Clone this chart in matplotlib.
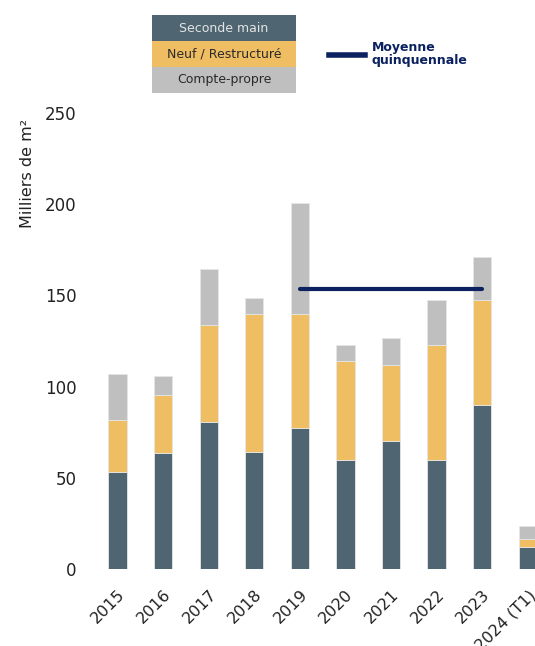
import matplotlib
matplotlib.use("Agg")
import matplotlib.pyplot as plt
import numpy as np

years = ["2015", "2016", "2017", "2018", "2019", "2020", "2021", "2022", "2023", "2024 (T1)"]
seconde_main = [53.5, 63.4, 80.9, 64.1, 77.1, 59.9, 70.3, 59.9, 90.2, 11.9]
neuf_restructure = [28.0, 32.0, 52.7, 76.0, 63.0, 54.3, 41.5, 62.9, 57.4, 4.5]
compte_propre = [25.6, 10.4, 31.0, 8.6, 60.6, 8.6, 14.8, 24.8, 23.6, 7.5]
moyenne_quinquennale = 153.8
moyenne_span = ["2019", "2023"]

c_dark = "#4f6672"
c_orange = "#f0be62"
c_gray = "#bfbfbf"
c_navy = "#0b2160"

plt.rcParams["font.family"] = ["DejaVu Sans"]

fig = plt.figure(figsize=(5.35, 6.46), dpi=100)
ax = fig.add_axes([0.177, 0.119, 0.852, 0.706])

x = np.arange(len(years))
w = 0.40
edge = dict(edgecolor="#e6e6e6", linewidth=0.6)
b1 = np.array(seconde_main)
b2 = b1 + np.array(neuf_restructure)
ax.bar(x, seconde_main, w, color=c_dark, **edge)
ax.bar(x, neuf_restructure, w, bottom=b1, color=c_orange, **edge)
ax.bar(x, compte_propre, w, bottom=b2, color=c_gray, **edge)

i0, i1 = years.index(moyenne_span[0]), years.index(moyenne_span[1])
ax.plot([x[i0], x[i1]], [moyenne_quinquennale] * 2, color=c_navy, lw=3,
        solid_capstyle="round", zorder=5)

ax.set_xlim(-0.5, len(years) - 0.5)
ax.set_ylim(0, 250)
ax.set_yticks([0, 50, 100, 150, 200, 250])
ax.tick_params(axis="y", length=0, pad=13, labelsize=12, labelcolor="#222222")
ax.set_xticks(x)
ax.set_xticklabels(years, rotation=45, ha="right", rotation_mode="anchor")
ax.tick_params(axis="x", length=0, pad=13, labelsize=11.5, labelcolor="#222222")
for s in ax.spines.values():
    s.set_visible(False)

fig.text(28 / 535, 1 - 173 / 646, "Milliers de m²", rotation=90, ha="center",
         va="center", fontsize=11.5, color="#222222")

# Legend block for the stacked series
rows = [("Seconde main", c_dark, "#e4e4e4"),
        ("Neuf / Restructuré", c_orange, "#2a2a2a"),
        ("Compte-propre", c_gray, "#2a2a2a")]
lx0, lx1 = 152 / 535, 296 / 535
ytop = 15
rh = 26
for k, (lab, fc, tc) in enumerate(rows):
    y0 = ytop + k * rh
    fig.patches.append(plt.Rectangle((lx0, 1 - (y0 + rh) / 646), lx1 - lx0, rh / 646,
                                     transform=fig.transFigure, facecolor=fc,
                                     edgecolor="none"))
    fig.text((lx0 + lx1) / 2, 1 - (y0 + rh / 2) / 646, lab, ha="center", va="center",
             fontsize=9, color=tc)

# Legend entry for the five-year average
fig.add_artist(plt.Line2D([329 / 535, 365 / 535], [1 - 55 / 646] * 2, color=c_navy,
                          lw=4, transform=fig.transFigure))
fig.text(372 / 535, 1 - 54 / 646, "Moyenne\nquinquennale", ha="left", va="center",
         fontsize=9, fontweight="bold", color=c_navy, linespacing=1.05)

fig.savefig("out.png", dpi=100)
